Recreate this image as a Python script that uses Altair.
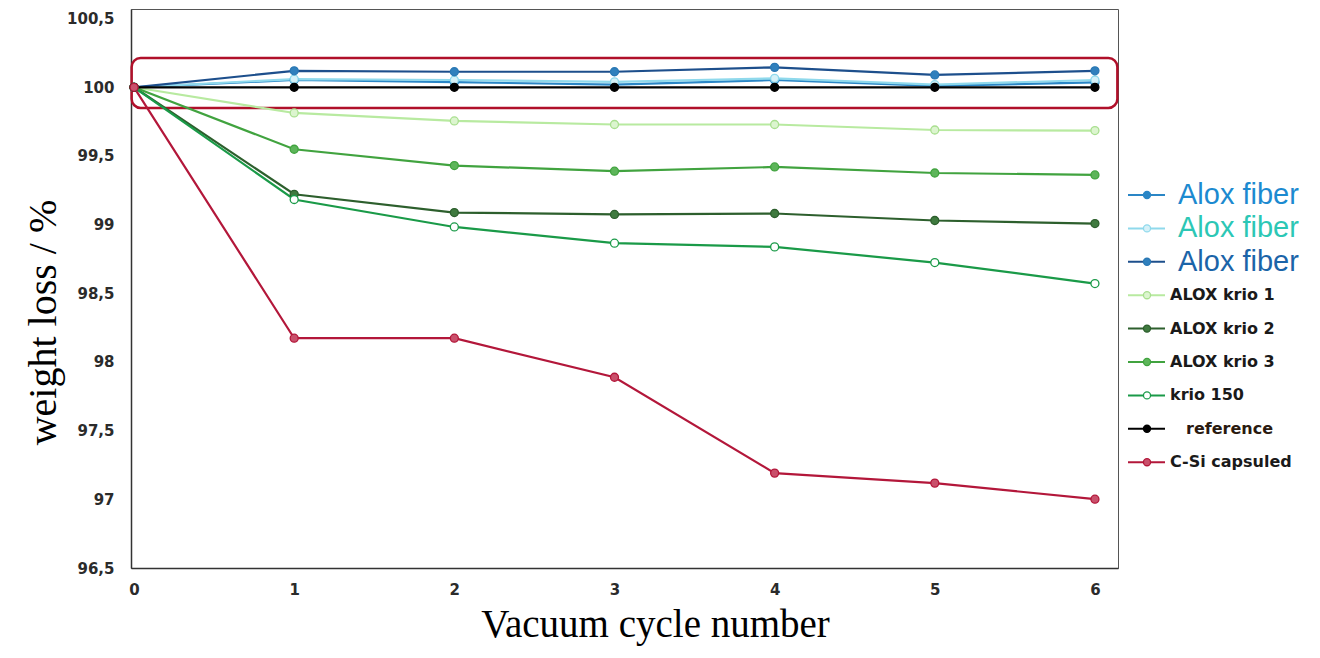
import altair as alt
import pandas as pd

# ---------------- data ----------------
cycles = [0, 1, 2, 3, 4, 5, 6]

series_keys = ["Alox fiber A", "Alox fiber B", "Alox fiber C", "ALOX krio 1", "ALOX krio 2",
               "ALOX krio 3", "krio 150", "reference", "C-Si capsuled"]
series_labels = ["Alox fiber", "Alox fiber", "Alox fiber", "ALOX krio 1", "ALOX krio 2",
                 "ALOX krio 3", "krio 150", "reference", "C-Si capsuled"]

alox_fiber_a = [100.0, 100.053, 100.037, 100.020, 100.053, 100.010, 100.036]
alox_fiber_b = [100.0, 100.060, 100.053, 100.040, 100.065, 100.020, 100.053]
alox_fiber_c = [100.0, 100.120, 100.113, 100.113, 100.145, 100.090, 100.120]
alox_krio_1 = [100.0, 99.813, 99.755, 99.729, 99.729, 99.689, 99.685]
alox_krio_2 = [100.0, 99.221, 99.088, 99.074, 99.081, 99.030, 99.008]
alox_krio_3 = [100.0, 99.549, 99.430, 99.389, 99.420, 99.376, 99.362]
krio_150 = [100.0, 99.183, 98.983, 98.865, 98.838, 98.724, 98.571]
reference = [100.0, 100.0, 100.0, 100.0, 100.0, 100.0, 100.0]
c_si_capsuled = [100.0, 98.173, 98.173, 97.889, 97.191, 97.118, 97.001]

series_values = [alox_fiber_a, alox_fiber_b, alox_fiber_c, alox_krio_1, alox_krio_2,
                 alox_krio_3, krio_150, reference, c_si_capsuled]

y_ticks = [96.5, 97, 97.5, 98, 98.5, 99, 99.5, 100, 100.5]

# highlight box around the Alox fiber / reference group (data units)
box_cycle = [-0.015, 6.14]
box_weight = [99.85, 100.213]

# ---------------- styles ----------------
line_colors = ["#2a86c6", "#8fd9ec", "#1d4f8c", "#b8eaa0", "#2d5f2d", "#41a33f", "#1a9a48", "#000000", "#b3173a"]
marker_fill = ["#2a86c6", "#d5f1f8", "#3080bd", "#dcf5cf", "#3f7a3f", "#5db55a", "#ffffff", "#000000", "#c9506b"]
marker_stroke = ["#2a86c6", "#8fd9ec", "#2a78b4", "#a9df8f", "#2d5f2d", "#41a33f", "#1a9a48", "#000000", "#b3173a"]
label_colors = ["#1c8ad0", "#2cc7b5", "#1b64a8", "#1a1a1a", "#1a1a1a", "#1a1a1a", "#1a1a1a", "#2a1a10", "#1a1a1a"]

# ---------------- tables ----------------
rows = []
for k, vals in zip(series_keys, series_values):
    for c, v in zip(cycles, vals):
        rows.append({"key": k, "cycle": c, "weight": v})
df = pd.DataFrame(rows)

leg = pd.DataFrame({"key": series_keys, "label": series_labels,
                    "row": list(range(len(series_keys))), "tcolor": label_colors})
leg_big = leg[leg["label"] == "Alox fiber"]
leg_small = leg[(leg["label"] != "Alox fiber") & (leg["label"] != "reference")]
leg_ref = leg[leg["label"] == "reference"]

box_df = pd.DataFrame({"x": [box_cycle[0]], "x2": [box_cycle[1]],
                       "y": [box_weight[0]], "y2": [box_weight[1]]})

W, H = 987, 559

x_scale = alt.Scale(domain=[-0.019, 6.144], nice=False, zero=False)
y_scale = alt.Scale(domain=[96.5, 100.57], nice=False, zero=False)

color_sc = alt.Scale(domain=series_keys, range=line_colors)
fill_sc = alt.Scale(domain=series_keys, range=marker_fill)
stroke_sc = alt.Scale(domain=series_keys, range=marker_stroke)

x_axis = alt.Axis(values=cycles, format="d", title="Vacuum cycle number", grid=False,
                  ticks=False, tickSize=0, domainColor="#333333", domainWidth=1.5,
                  labelFont="DejaVu Sans", labelFontWeight="bold", labelFontSize=15,
                  labelColor="#2b2b2b", labelPadding=14,
                  titleFont="Liberation Serif", titleFontSize=39, titleFontWeight="normal",
                  titleColor="#000000", titleX=524, titleY=68, titleBaseline="alphabetic",
                  titleAlign="center")
y_axis = alt.Axis(values=y_ticks, labelExpr="replace(toString(datum.value), '.', ',')",
                  title="weight loss / %", grid=False, ticks=False, tickSize=0,
                  domainColor="#333333", domainWidth=1.5,
                  labelFont="DejaVu Sans", labelFontWeight="bold", labelFontSize=15,
                  labelColor="#2b2b2b", labelPadding=17,
                  titleFont="Liberation Serif", titleFontSize=40, titleFontWeight="normal",
                  titleColor="#000000", titleAngle=270, titleX=-76, titleY=313,
                  titleBaseline="alphabetic", titleAlign="center")

base = alt.Chart(df)

box = alt.Chart(box_df).mark_rect(fillOpacity=0, stroke="#b0102a", strokeWidth=2.5,
                                  cornerRadius=9).encode(
    x=alt.X("x:Q", scale=x_scale, axis=x_axis),
    x2="x2:Q",
    y=alt.Y("y:Q", scale=y_scale, axis=y_axis),
    y2="y2:Q",
)

lines = base.mark_line(strokeWidth=2.2).encode(
    x=alt.X("cycle:Q", scale=x_scale),
    y=alt.Y("weight:Q", scale=y_scale),
    color=alt.Color("key:N", scale=color_sc, legend=None),
    order="cycle:Q",
)

points = base.mark_point(shape="circle", filled=True, size=64, strokeWidth=1.3, opacity=1).encode(
    x=alt.X("cycle:Q", scale=x_scale),
    y=alt.Y("weight:Q", scale=y_scale),
    fill=alt.Fill("key:N", scale=fill_sc, legend=None),
    stroke=alt.Stroke("key:N", scale=stroke_sc, legend=None),
)

main = alt.layer(box, lines, points)

# ---------------- manual legend ----------------
row_scale = alt.Scale(domain=[-5.569, 11.168], reverse=True, nice=False, zero=False)

leg_line = alt.Chart(leg).mark_rule(strokeWidth=2).encode(
    x=alt.value(997), x2=alt.value(1034),
    y=alt.Y("row:Q", scale=row_scale, axis=None),
    color=alt.Color("key:N", scale=color_sc, legend=None),
)
leg_point = alt.Chart(leg).mark_point(shape="circle", filled=True, size=50, strokeWidth=1.3,
                                      opacity=1).encode(
    x=alt.value(1016),
    y=alt.Y("row:Q", scale=row_scale, axis=None),
    fill=alt.Fill("key:N", scale=fill_sc, legend=None),
    stroke=alt.Stroke("key:N", scale=stroke_sc, legend=None),
)
leg_text_big = alt.Chart(leg_big).mark_text(align="left", baseline="middle", font="Liberation Sans",
                                            fontSize=29).encode(
    x=alt.value(1047),
    y=alt.Y("row:Q", scale=row_scale, axis=None),
    text="label:N",
    color=alt.Color("tcolor:N", scale=None),
)
leg_text_small = alt.Chart(leg_small).mark_text(align="left", baseline="middle", font="DejaVu Sans",
                                                fontSize=16, fontWeight="bold").encode(
    x=alt.value(1039),
    y=alt.Y("row:Q", scale=row_scale, axis=None),
    text="label:N",
    color=alt.Color("tcolor:N", scale=None),
)
leg_text_ref = alt.Chart(leg_ref).mark_text(align="left", baseline="middle", font="DejaVu Sans",
                                            fontSize=16, fontWeight="bold").encode(
    x=alt.value(1055),
    y=alt.Y("row:Q", scale=row_scale, axis=None),
    text="label:N",
    color=alt.Color("tcolor:N", scale=None),
)

legend = alt.layer(leg_line, leg_point, leg_text_big, leg_text_small, leg_text_ref)

chart = alt.layer(main, legend).resolve_scale(y="independent").properties(
    width=W, height=H,
    autosize=alt.AutoSizeParams(type="none"),
    padding={"left": 123, "top": 1, "right": 194, "bottom": 78},
    background="white",
).configure_view(stroke="#555555", strokeWidth=1)

chart.save("out.html", embed_options={"renderer": "svg", "actions": False})
